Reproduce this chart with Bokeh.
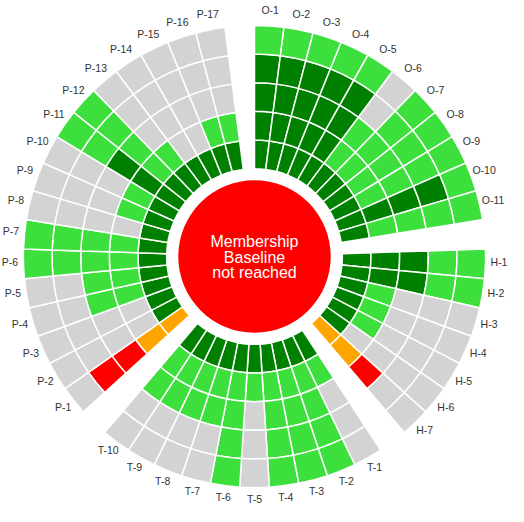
import math
from bokeh.plotting import figure
from bokeh.models import ColumnDataSource, Range1d
from bokeh.embed import file_html
from bokeh.resources import INLINE
from bokeh.core.properties import value

# ---- data (ring status, inner ring -> outer ring) ----
# D = achieved (dark green), L = partly (light green), G = none (grey),
# O = warning (orange), R = missing (red)
o_labels = ["O-1", "O-2", "O-3", "O-4", "O-5", "O-6", "O-7", "O-8", "O-9", "O-10", "O-11"]
o_status = ["DDDDL", "DDDDL", "DDDDL", "DDDDL", "DDDDL", "DLLGG",
            "DLLLL", "DLLLL", "DLLLL", "DDDDL", "DLLLL"]

h_labels = ["H-1", "H-2", "H-3", "H-4", "H-5", "H-6", "H-7"]
h_status = ["DDDLL", "DDDLL", "DLGGG", "DLGGG", "DLGGG", "DGGGG", "OORGG"]

t_labels = ["T-1", "T-2", "T-3", "T-4", "T-5", "T-6", "T-7", "T-8", "T-9", "T-10"]
t_status = ["DLGGG", "DLLLL", "DLLLL", "DLLLL", "DLGGG",
            "DLLLL", "DLLGG", "DLLGG", "DLLGG", "DLLGG"]

p_labels = ["P-1", "P-2", "P-3", "P-4", "P-5", "P-6", "P-7", "P-8", "P-9",
            "P-10", "P-11", "P-12", "P-13", "P-14", "P-15", "P-16", "P-17"]
p_status = ["OORRG", "DGGGG", "DGGGG", "DLLGG", "DLLGG", "DLLLL", "DLLLL",
            "DGGGG", "DLGGG", "DLGGG", "DDDLL", "DLLLL", "DLGGG", "DGGGG",
            "DGGGG", "DLGGG", "DLGGG"]

status_colors = {"D": "#008000", "L": "#3ddf3d", "G": "#d3d3d3",
                 "O": "#ffa500", "R": "#ff0000"}

center_lines = ["Membership", "Baseline", "not reached"]

# ---- layout ----
S = 0.965
R_CENTER = 79 * S
R0 = 91 * S
RW = 29.7 * S
LABEL_R = 253.5 * S
W, H = 508, 506
CX, CY = 254, 256

groups = [(o_labels, o_status), (h_labels, h_status),
          (t_labels, t_status), (p_labels, p_status)]
n_units = sum(len(l) for l, _ in groups) + len(groups)
step = 2 * math.pi / n_units

cells = dict(r_in=[], r_out=[], start=[], end=[], color=[])
labs = dict(x=[], y=[], text=[])
u = 0
for names, stats in groups:
    for name, st in zip(names, stats):
        a_hi = math.pi / 2 - u * step
        a_lo = a_hi - step
        for k, code in enumerate(st):
            cells["r_in"].append(R0 + k * RW)
            cells["r_out"].append(R0 + (k + 1) * RW)
            cells["start"].append(a_lo)
            cells["end"].append(a_hi)
            cells["color"].append(status_colors[code])
        mid = (a_hi + a_lo) / 2
        labs["x"].append(LABEL_R * math.cos(mid))
        labs["y"].append(LABEL_R * math.sin(mid) + 2.5)
        labs["text"].append(name)
        u += 1
    u += 1

p = figure(width=W, height=H,
           x_range=Range1d(-CX, W - CX), y_range=Range1d(-(H - CY), CY),
           output_backend="svg", toolbar_location=None,
           x_axis_type=None, y_axis_type=None, min_border=0,
           outline_line_color=None, background_fill_color="white",
           border_fill_color="white")

p.annular_wedge(x=0, y=0, inner_radius="r_in", outer_radius="r_out",
                start_angle="start", end_angle="end", fill_color="color",
                line_color="white", line_width=1.5,
                source=ColumnDataSource(cells))

p.circle(x=[0], y=[0], radius=R_CENTER, fill_color="#ff0000", line_color=None)

p.text(x=[0, 0, 0], y=[15, -0.5, -16], text=center_lines,
       text_align="center", text_baseline="alphabetic", text_color="white",
       text_font=value("Liberation Sans"), text_font_size="16px")

p.text(x="x", y="y", text="text", source=ColumnDataSource(labs),
       text_align="center", text_baseline="middle", text_color="#333333",
       text_font=value("Liberation Sans"), text_font_size="10.5px")

open("out.html", "w").write(file_html(p, INLINE))
